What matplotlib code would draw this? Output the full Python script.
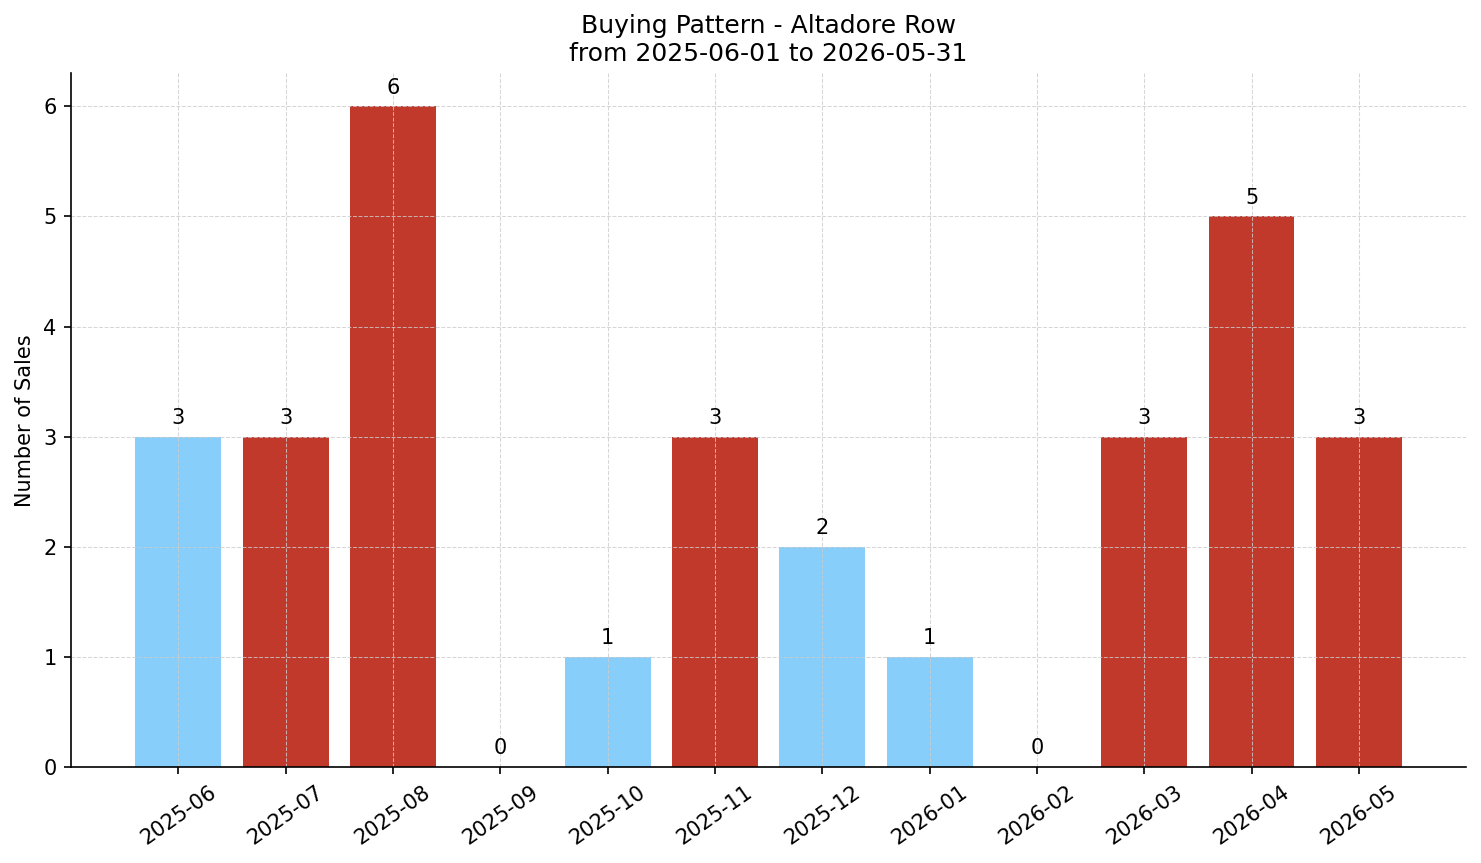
import matplotlib.pyplot as plt

months = ['2025-06', '2025-07', '2025-08', '2025-09', '2025-10', '2025-11',
          '2025-12', '2026-01', '2026-02', '2026-03', '2026-04', '2026-05']
sales = [3, 3, 6, 0, 1, 3, 2, 1, 0, 3, 5, 3]
bar_colors = ['#87CEFA', '#C0392B', '#C0392B', '#87CEFA', '#87CEFA', '#C0392B',
              '#87CEFA', '#87CEFA', '#87CEFA', '#C0392B', '#C0392B', '#C0392B']

fig, ax = plt.subplots(figsize=(1481 / 150, 863 / 150), dpi=150)
bars = ax.bar(months, sales, color=bar_colors, width=0.8)

for b, v in zip(bars, sales):
    ax.text(b.get_x() + b.get_width() / 2, v + 0.08, str(v),
            ha='center', va='bottom', fontsize=10)

ax.set_title('Buying Pattern - Altadore Row\nfrom 2025-06-01 to 2026-05-31', fontsize=12)
ax.set_ylabel('Number of Sales', fontsize=10)
ax.set_ylim(0, 6.3)
ax.set_xlim(-1, 12)
ax.grid(True, linestyle='--', linewidth=0.5, color='#cccccc', alpha=0.8)
ax.spines['top'].set_visible(False)
ax.spines['right'].set_visible(False)
plt.xticks(rotation=35, fontsize=10)
plt.yticks(fontsize=10)

plt.subplots_adjust(left=0.048, right=0.99, top=0.915, bottom=0.1112)
plt.savefig('out.png')
